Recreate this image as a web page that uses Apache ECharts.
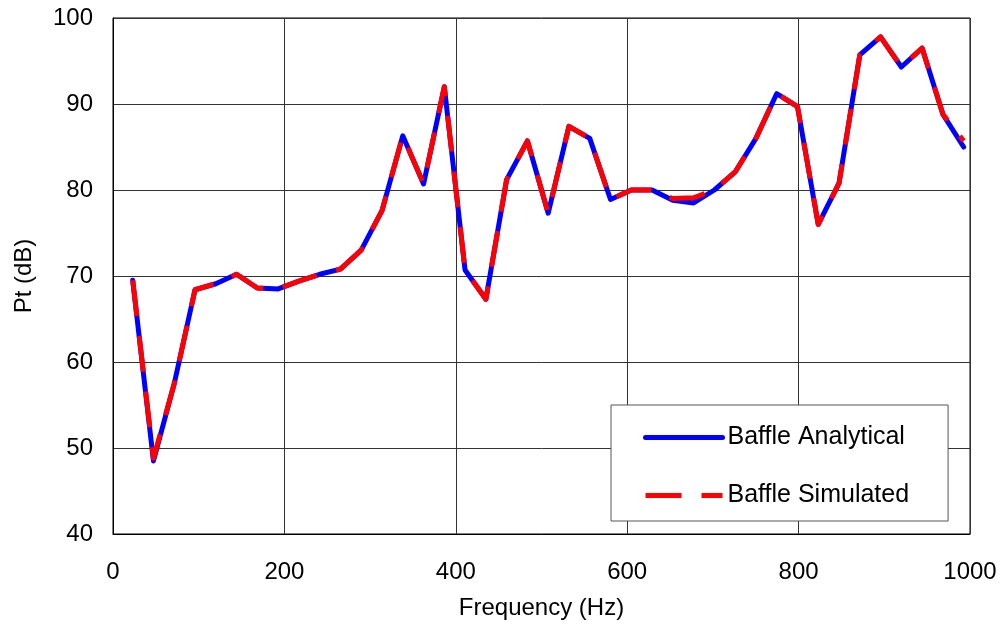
<!DOCTYPE html>
<html>
<head>
<meta charset="utf-8">
<title>Baffle Pt vs Frequency</title>
<script src="https://cdn.jsdelivr.net/npm/echarts@6/dist/echarts.min.js"></script>
<style>
  html, body { margin: 0; padding: 0; background: #fff; }
  #chart { width: 1004px; height: 632px; }
</style>
</head>
<body>
<div id="chart"></div>
<script>
// Frequencies of the computed points (Hz)
const frequencies = [
  23.0, 47.2, 71.5, 95.7, 120.0, 144.2, 168.4, 192.7, 216.9, 241.2,
  265.4, 289.6, 313.9, 338.1, 362.4, 386.6, 410.8, 435.1, 459.3, 483.6,
  507.8, 532.0, 556.3, 580.5, 604.8, 629.0, 653.2, 677.5, 701.7, 726.0,
  750.2, 774.4, 798.7, 822.9, 847.2, 871.4, 895.6, 919.9, 944.1, 968.4,
  992.6
];

// Total pressure level (dB), analytical baffle model
const analytical = [
  69.5, 48.5, 57.5, 68.4, 69.1, 70.2, 68.6, 68.5, 69.4, 70.2,
  70.8, 73.0, 77.6, 86.3, 80.7, 92.0, 70.7, 67.3, 81.2, 85.7,
  77.3, 87.4, 86.0, 78.9, 80.0, 80.0, 78.8, 78.5, 80.0, 82.1,
  86.0, 91.2, 89.7, 76.0, 80.8, 95.7, 97.8, 94.3, 96.5, 88.8,
  85.0
];

// Total pressure level (dB), simulated baffle
const simulated = [
  69.5, 48.8, 57.5, 68.4, 69.1, 70.2, 68.6, 68.5, 69.4, 70.2,
  70.8, 73.0, 77.6, 86.3, 80.7, 92.0, 70.7, 67.3, 81.2, 85.7,
  77.3, 87.4, 86.0, 78.9, 80.0, 80.0, 79.0, 79.1, 80.0, 82.1,
  86.0, 91.2, 89.7, 76.0, 80.8, 95.7, 97.8, 94.3, 96.5, 88.8,
  85.7
];

const seriesNames = ['Baffle Analytical', 'Baffle Simulated'];
const xTicks = { min: 0, max: 1000, step: 200 };
const yTicks = { min: 40, max: 100, step: 10 };

const pairs = (xs, ys) => xs.map((x, i) => [x, ys[i]]);

const FONT = '"Liberation Sans", Arial, sans-serif';
const BLUE = '#0000ff';
const RED = '#ff0000';
const DASH = [36, 20];

const chart = echarts.init(document.getElementById('chart'), null, { renderer: 'canvas' });

chart.setOption({
  backgroundColor: '#ffffff',
  animation: false,
  textStyle: { fontFamily: FONT, color: '#000' },
  grid: {
    left: 113, right: 34, top: 18, bottom: 98,
    show: true, borderColor: '#000', borderWidth: 1
  },
  xAxis: {
    type: 'value',
    min: xTicks.min, max: xTicks.max, interval: xTicks.step,
    name: 'Frequency (Hz)',
    nameLocation: 'middle',
    nameGap: 62,
    nameTextStyle: { fontFamily: FONT, fontSize: 24, color: '#000' },
    axisLine: { show: true, onZero: false, lineStyle: { color: '#000', width: 1 } },
    axisTick: { show: false },
    axisLabel: {
      fontFamily: FONT, fontSize: 24, color: '#000', margin: 26,
      formatter: v => String(v)
    },
    splitLine: { show: true, lineStyle: { color: '#333', width: 1 } }
  },
  yAxis: {
    type: 'value',
    min: yTicks.min, max: yTicks.max, interval: yTicks.step,
    name: 'Pt (dB)',
    nameLocation: 'middle',
    nameGap: 77,
    nameTextStyle: { fontFamily: FONT, fontSize: 24, color: '#000' },
    axisLine: { show: true, onZero: false, lineStyle: { color: '#000', width: 1 } },
    axisTick: { show: false },
    axisLabel: {
      fontFamily: FONT, fontSize: 24, color: '#000', margin: 20,
      formatter: v => String(v)
    },
    splitLine: { show: true, lineStyle: { color: '#333', width: 1 } }
  },
  legend: {
    orient: 'vertical',
    left: 611,
    top: 405,
    padding: [20, 39, 13, 32],
    itemGap: 33,
    itemWidth: 77,
    itemHeight: 14,
    backgroundColor: '#fff',
    borderColor: '#555',
    borderWidth: 1,
    // hide the marker dot so only the line sample remains
    itemStyle: { opacity: 0, borderWidth: 0 },
    textStyle: { fontFamily: FONT, fontSize: 25, color: '#000', lineHeight: 25 },
    data: [
      { name: seriesNames[0], lineStyle: { color: BLUE, width: 5, type: 'solid', cap: 'round' } },
      { name: seriesNames[1], lineStyle: { color: RED, width: 5, type: DASH, cap: 'butt' } }
    ]
  },
  series: [
    {
      name: seriesNames[0],
      type: 'line',
      data: pairs(frequencies, analytical),
      symbol: 'none',
      z: 2,
      lineStyle: { color: BLUE, width: 5, cap: 'round', join: 'round' },
      itemStyle: { color: BLUE }
    },
    {
      name: seriesNames[1],
      type: 'line',
      data: pairs(frequencies, simulated),
      symbol: 'none',
      z: 3,
      lineStyle: { color: RED, width: 5, type: DASH, cap: 'butt', join: 'round' },
      itemStyle: { color: RED }
    }
  ]
});
</script>
</body>
</html>
